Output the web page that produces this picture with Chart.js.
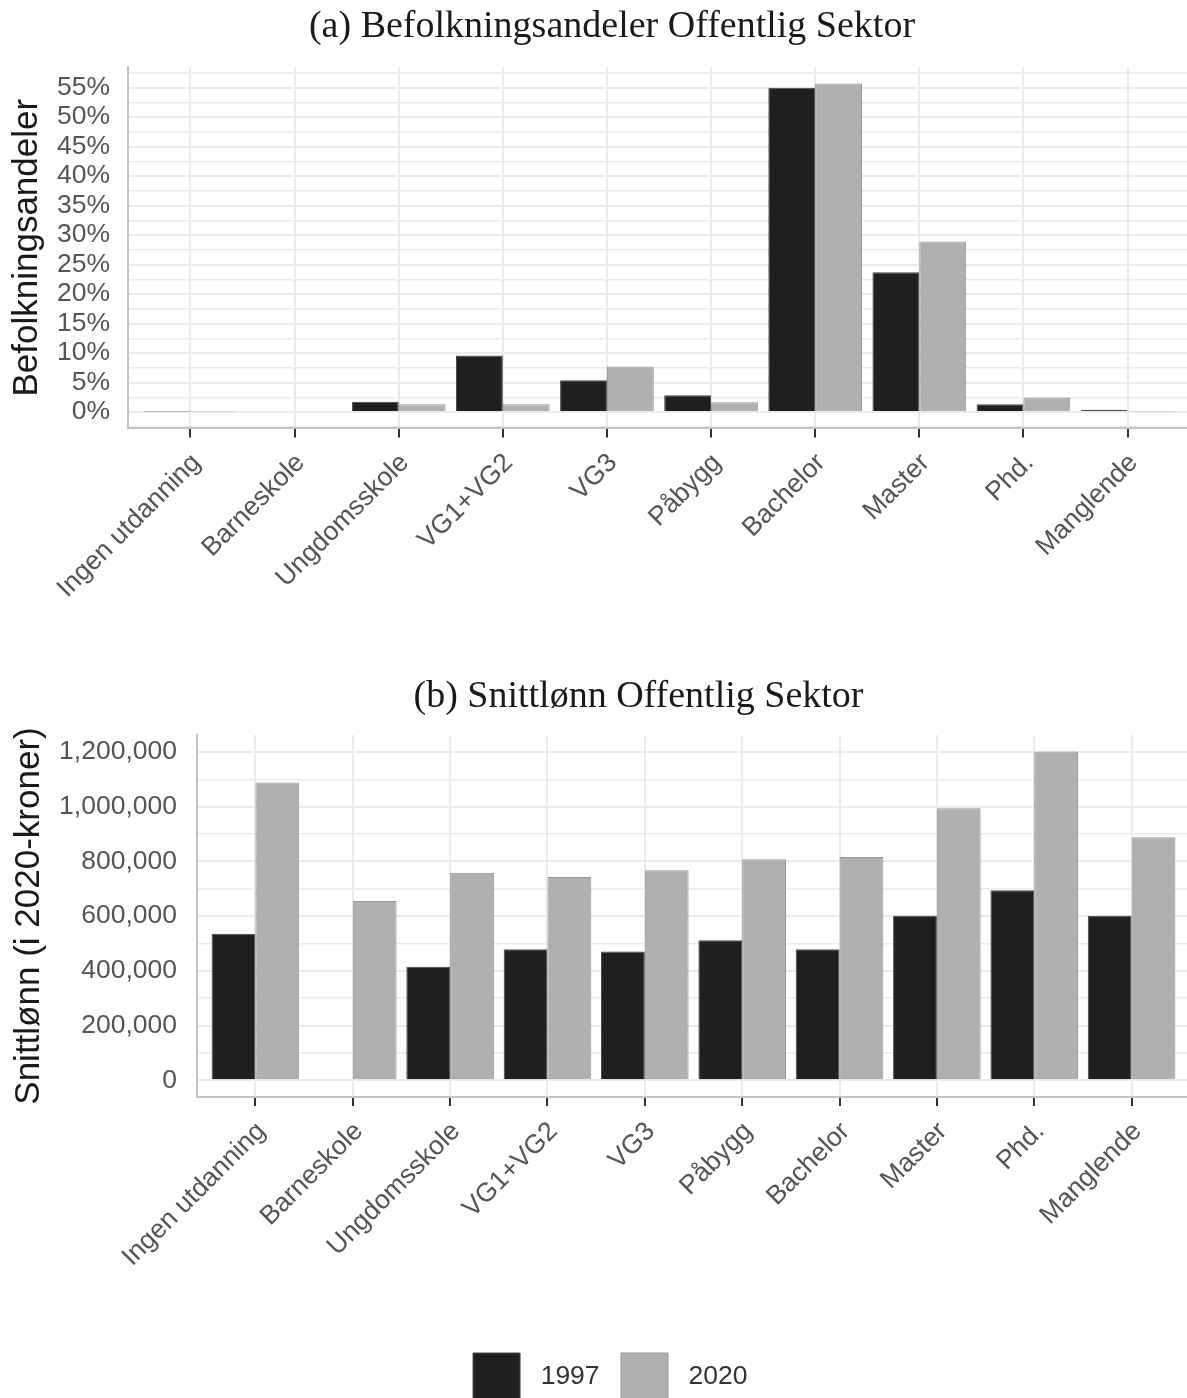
<!DOCTYPE html>
<html lang="no">
<head>
<meta charset="utf-8">
<title>Offentlig sektor: befolkningsandeler og snittlønn</title>
<script src="https://cdn.jsdelivr.net/npm/chart.js@4.4.1/dist/chart.umd.min.js"></script>
<style>
  html, body { margin: 0; padding: 0; background: #fff; overflow: hidden; width: 1187px; height: 1398px; }
  canvas { position: absolute; left: 0; }
  #andeler { top: 0; }
  #lonn { top: 640px; }
</style>
</head>
<body>
<canvas id="andeler" width="1190" height="640"></canvas>
<canvas id="lonn" width="1190" height="770"></canvas>
<script>
// Education levels (x axis) and the two survey years
const categories = ['Ingen utdanning', 'Barneskole', 'Ungdomsskole', 'VG1+VG2', 'VG3',
                    'Påbygg', 'Bachelor', 'Master', 'Phd.', 'Manglende'];
const years = ['1997', '2020'];

// (a) share of public-sector employees per education level, in percent
const share1997 = [0.1, 0, 1.75, 9.6, 5.4, 2.85, 55.0, 23.7, 1.3, 0.4];
const share2020 = [0.1, 0, 1.3, 1.3, 7.7, 1.65, 55.7, 28.9, 2.45, 0.1];

// (b) average wage, in 2020 kroner
const wage1997 = [536000, null, 415000, 479000, 471000, 512000, 479000, 601000, 695000, 601000];
const wage2020 = [1088000, 655000, 759000, 743000, 768000, 808000, 816000, 994000, 1202000, 888000];

// Labelled (major) steps and grid-only (minor) steps of the value axes
const shareMajorStep = 5;
const shareMinorStep = 2.5;
const wageMajorStep = 200000;
const wageMinorStep = 100000;

// Titles
const titleA = '(a) Befolkningsandeler Offentlig Sektor';
const titleB = '(b) Snittlønn Offentlig Sektor';
const yTitleA = 'Befolkningsandeler';
const yTitleB = 'Snittlønn (i 2020-kroner)';

const SANS = "'Liberation Sans', Arial, sans-serif";
const SERIF = "'Liberation Serif', 'Times New Roman', serif";
const fills = ['#1f1f1f', '#b0b0b0'];
const edges = ['#484848', '#979797'];
const GRID = '#ebebeb';
const AXIS = '#c4c4c4';
const TICKTEXT = '#555555';

function points(values) {
  return values.map((v, i) => ({ x: i, y: v }));
}

function withThousands(v) {
  return String(Math.round(v)).replace(/\B(?=(\d{3})+(?!\d))/g, ',');
}

const isMultiple = (v, step) => Math.abs(v / step - Math.round(v / step)) < 1e-6;

// Every multiple of `step` inside [min, max]
function stepTicks(min, max, step) {
  const ticks = [];
  for (let k = Math.ceil(min / step); k * step <= max; k++) ticks.push({ value: k * step });
  return ticks;
}

function yearDatasets(a, b) {
  return [a, b].map((vals, k) => ({
    label: years[k],
    data: points(vals),
    backgroundColor: fills[k],
    borderColor: edges[k],
    borderWidth: 1,
    categoryPercentage: 0.9,
    barPercentage: 1.0
  }));
}

// Discrete axis built on a linear scale so the panel can extend 0.6 units past the outer bars
function categoryAxis(height, pad) {
  return {
    type: 'linear',
    min: -0.6,
    max: 9.6,
    offset: false,
    afterFit: s => { s.height = height; },
    afterBuildTicks: s => { s.ticks = stepTicks(0, categories.length - 1, 1); },
    ticks: {
      autoSkip: false,
      minRotation: 45,
      maxRotation: 45,
      padding: pad,
      labelOffset: 6,
      color: TICKTEXT,
      font: { family: SANS, size: 26.5 },
      callback: v => categories[v] ?? ''
    },
    grid: {
      offset: false,
      color: GRID,
      lineWidth: 2,
      drawTicks: true,
      tickColor: '#333333',
      tickWidth: 2,
      tickLength: 9
    },
    border: { display: true, color: AXIS, width: 2 }
  };
}

function valueAxis(opts) {
  return {
    type: 'linear',
    min: opts.min,
    max: opts.max,
    beginAtZero: false,
    afterFit: s => { s.width = opts.width; },
    afterBuildTicks: s => { s.ticks = stepTicks(opts.min, opts.max, opts.minorStep); },
    ticks: {
      autoSkip: false,
      padding: opts.labelPad,
      color: TICKTEXT,
      font: { family: SANS, size: 26.5 },
      callback: v => (v >= 0 && isMultiple(v, opts.majorStep)) ? opts.format(v) : ''
    },
    grid: {
      drawTicks: false,
      color: GRID,
      lineWidth: c => (c.tick && isMultiple(c.tick.value, opts.majorStep)) ? 2 : 1.5
    },
    border: { display: true, color: AXIS, width: 2 },
    title: {
      display: true,
      text: opts.title,
      color: '#1a1a1a',
      font: { family: SANS, size: 35 },
      padding: { top: opts.titleShift, bottom: 0 }
    }
  };
}

function chartTitle(text, bottom) {
  return {
    display: true,
    text: text,
    color: '#1a1a1a',
    font: { family: SERIF, size: 38, weight: 'normal' },
    padding: { top: 0, bottom: bottom }
  };
}

// Slides the title and legend boxes sideways after layout, leaving the plot area untouched
const boxShift = {
  id: 'boxShift',
  afterLayout(chart, args, opts) {
    const move = (box, dx) => {
      if (box && dx) { box.left += dx; box.right += dx; }
    };
    move(chart.titleBlock, opts.title);
    move(chart.legend, opts.legend);
  }
};

new Chart(document.getElementById('andeler'), {
  type: 'bar',
  data: { datasets: yearDatasets(share1997, share2020) },
  options: {
    responsive: false,
    devicePixelRatio: 1,
    animation: false,
    layout: { padding: { top: 4.2, left: 34, right: 0, bottom: 0 } },
    plugins: {
      title: chartTitle(titleA, 17.2),
      legend: { display: false },
      tooltip: { enabled: false }
    },
    scales: {
      x: categoryAxis(211.6, 10),
      y: valueAxis({
        min: -2.78, max: 58.5, width: 94,
        majorStep: shareMajorStep, minorStep: shareMinorStep, labelPad: 18,
        title: yTitleA, titleShift: -27.5,
        format: v => Math.round(v) + '%'
      })
    }
  }
});

new Chart(document.getElementById('lonn'), {
  type: 'bar',
  data: { datasets: yearDatasets(wage1997, wage2020) },
  plugins: [boxShift],
  options: {
    responsive: false,
    devicePixelRatio: 1,
    animation: false,
    layout: { padding: { top: 34.2, left: 0, right: 0, bottom: 0 } },
    plugins: {
      title: chartTitle(titleB, 15.2),
      legend: {
        display: true,
        position: 'bottom',
        labels: {
          boxWidth: 47,
          boxHeight: 47,
          padding: 21.4,
          color: '#333333',
          font: { family: SANS, size: 26.5 },
          generateLabels: chart => Chart.defaults.plugins.legend.labels.generateLabels(chart)
            .map(item => Object.assign(item, { text: ' ' + item.text }))
        }
      },
      boxShift: { title: 43.5, legend: 15.3 },
      tooltip: { enabled: false }
    },
    scales: {
      x: categoryAxis(234.6, 10),
      y: valueAxis({
        min: -61000, max: 1262000, width: 197,
        majorStep: wageMajorStep, minorStep: wageMinorStep, labelPad: 20,
        title: yTitleB, titleShift: 8,
        format: withThousands
      })
    }
  }
});
</script>
</body>
</html>
